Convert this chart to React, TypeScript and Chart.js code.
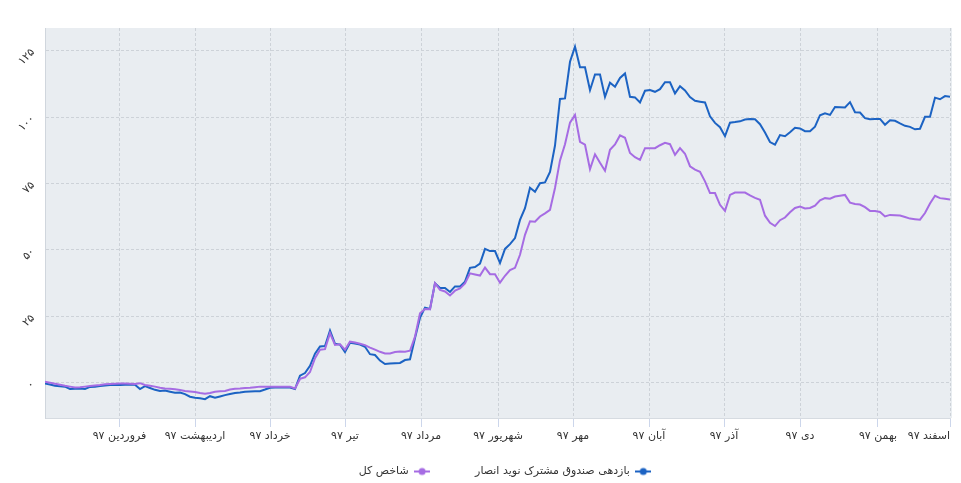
import React, { useEffect, useRef } from 'react';
import { Chart, registerables } from 'chart.js';

Chart.register(...registerables);

// ---- data ----
const seriesNames = ['بازدهی صندوق مشترک نوید انصار', 'شاخص کل'];
const monthNames = ['فروردین', 'اردیبهشت', 'خرداد', 'تیر', 'مرداد', 'شهریور', 'مهر', 'آبان', 'آذر', 'دی', 'بهمن', 'اسفند'];
const yearLabel = '۹۷';
// trading-day index at which each month starts
const monthStartIndex = [14.9, 30, 45, 60, 75.2, 90.6, 105.6, 120.8, 135.8, 151, 166.6, 181];
const yTickValues = [0, 25, 50, 75, 100, 125];

const fundReturns = [
  -0.2, -0.6, -1.1, -1.3, -1.4, -2.3, -2.2, -2.1, -2.3, -1.5,
  -1.4, -1.2, -1.0, -0.8, -0.8, -0.8, -0.7, -0.7, -0.7, -2.3,
  -1.2, -1.9, -2.6, -3.0, -2.9, -3.3, -3.7, -3.6, -4.2, -5.2,
  -5.6, -5.8, -6.1, -5.0, -5.6, -5.1, -4.6, -4.2, -3.8, -3.6,
  -3.3, -3.2, -3.1, -3.1, -2.5, -1.8, -1.7, -1.7, -1.7, -1.7,
  -2.3, 2.7, 3.7, 6.4, 11.0, 13.7, 13.9, 19.7, 14.7, 14.4,
  11.6, 15.1, 14.8, 14.4, 13.6, 10.8, 10.5, 8.4, 7.1, 7.3,
  7.4, 7.5, 8.6, 8.9, 16.9, 24.5, 28.3, 27.8, 37.5, 35.7,
  35.7, 34.2, 36.3, 36.3, 38.1, 43.3, 43.6, 44.9, 50.4, 49.6,
  49.6, 45.1, 50.4, 52.2, 54.5, 61.3, 65.7, 73.4, 71.9, 75.1,
  75.4, 79.4, 89.3, 106.8, 107.0, 120.8, 126.5, 118.7, 118.7, 110.1,
  116.0, 116.0, 107.6, 112.9, 111.4, 114.7, 116.4, 107.6, 107.4, 105.5,
  109.9, 110.2, 109.5, 110.5, 113.1, 113.1, 108.9, 111.6, 110.0, 107.5,
  106.1, 105.8, 105.5, 100.3, 97.8, 96.2, 92.8, 97.9, 98.1, 98.4,
  99.1, 99.3, 99.2, 97.3, 94.2, 90.6, 89.6, 93.2, 92.8, 94.3,
  96.0, 95.7, 94.7, 94.7, 96.4, 100.7, 101.4, 100.8, 103.8, 103.7,
  103.6, 105.6, 101.8, 101.7, 99.6, 99.2, 99.3, 99.3, 97.1, 98.8,
  98.6, 97.6, 96.7, 96.3, 95.4, 95.6, 100.1, 100.1, 107.3, 106.7,
  107.9, 107.6,
];

const indexReturns = [
  0.4, 0.1, -0.3, -0.7, -1.1, -1.4, -1.7, -1.6, -1.4, -1.2,
  -1.0, -0.8, -0.5, -0.4, -0.3, -0.2, -0.2, -0.3, -0.4, -0.1,
  -0.8, -1.1, -1.4, -1.8, -2.1, -2.2, -2.4, -2.7, -3.0, -3.2,
  -3.4, -3.8, -4.1, -3.8, -3.3, -3.1, -3.0, -2.5, -2.2, -2.1,
  -1.9, -1.8, -1.6, -1.4, -1.4, -1.4, -1.4, -1.4, -1.4, -1.4,
  -2.1, 1.5, 2.1, 4.1, 9.3, 12.5, 12.7, 18.7, 14.3, 14.5,
  12.5, 15.5, 15.2, 14.7, 14.2, 13.3, 12.5, 11.7, 11.1, 11.1,
  11.6, 11.8, 11.7, 12.1, 17.4, 26.2, 27.8, 27.7, 37.5, 35.0,
  34.4, 32.9, 34.7, 35.5, 37.4, 41.2, 40.8, 40.4, 43.4, 40.9,
  40.9, 37.7, 40.3, 42.4, 43.3, 48.2, 55.7, 60.8, 60.6, 62.6,
  63.8, 65.1, 73.3, 83.7, 89.8, 97.9, 100.8, 90.7, 89.6, 80.4,
  86.0, 82.8, 79.8, 87.7, 89.7, 93.1, 92.2, 86.5, 84.9, 83.9,
  88.3, 88.3, 88.3, 89.4, 90.3, 89.8, 85.8, 88.3, 86.2, 81.5,
  80.2, 79.4, 75.8, 71.4, 71.4, 67.0, 64.7, 70.7, 71.6, 71.6,
  71.6, 70.5, 69.6, 68.9, 62.9, 60.2, 59.0, 61.2, 62.2, 64.2,
  65.8, 66.3, 65.6, 65.8, 66.7, 68.7, 69.5, 69.3, 70.1, 70.4,
  70.7, 67.8, 67.3, 67.1, 66.1, 64.7, 64.7, 64.3, 62.6, 63.2,
  63.1, 63.0, 62.4, 61.8, 61.6, 61.4, 63.9, 67.5, 70.4, 69.5,
  69.3, 69.0,
];

const seriesColors = ['#1c63c3', '#a66ce3'];

const FONT = '"DejaVu Sans", sans-serif';
const persianDigits = '۰۱۲۳۴۵۶۷۸۹';
const toPersian = (v: number | string) => String(v).replace(/\d/g, (d) => persianDigits[Number(d)]);

const CANVAS_W = 961;
const CANVAS_H = 487;
const X_AXIS_H = 30;
const LEGEND_FONT = 11;
const LEGEND_GAP = 45;
const LEGEND_BOX_H = CANVAS_H - 418 - X_AXIS_H; // layout height reserved for legend
const LEGEND_SHIFT_X = 30;
const LEGEND_SHIFT_Y = -27;

const plotBackground = {
  id: 'plotBackground',
  beforeDraw(chart: any) {
    const { ctx, chartArea } = chart;
    if (!chartArea) return;
    ctx.save();
    ctx.fillStyle = '#e9edf1';
    ctx.fillRect(chartArea.left, chartArea.top, chartArea.right - chartArea.left + 2, chartArea.bottom - chartArea.top);
    ctx.restore();
  },
};

const legendShift = {
  id: 'legendShift',
  afterLayout(chart: any) {
    const lg = chart.legend;
    if (!lg) return;
    lg.left += LEGEND_SHIFT_X;
    lg.right += LEGEND_SHIFT_X;
    lg.top += LEGEND_SHIFT_Y;
    lg.bottom = CANVAS_H;
  },
};

function makeMarker(color: string) {
  const c = document.createElement('canvas');
  c.width = 16;
  c.height = 10;
  const g = c.getContext('2d')!;
  g.strokeStyle = color;
  g.lineWidth = 2;
  g.beginPath();
  g.moveTo(0, 5);
  g.lineTo(16, 5);
  g.stroke();
  g.fillStyle = color;
  g.beginPath();
  g.arc(8, 5, 3.5, 0, Math.PI * 2);
  g.fill();
  return c;
}

export default function App() {
  const ref = useRef<HTMLCanvasElement | null>(null);

  useEffect(() => {
    if (!ref.current) return;
    const markers = seriesColors.map(makeMarker);
    const xTicks = [0, ...monthStartIndex];

    const chart = new Chart(ref.current, {
      type: 'line',
      data: {
        datasets: [
          {
            label: seriesNames[0],
            data: fundReturns.map((v, i) => ({ x: i, y: v })),
            borderColor: seriesColors[0],
            backgroundColor: seriesColors[0],
            borderWidth: 2,
            pointRadius: 0,
            tension: 0,
            order: 1,
          },
          {
            label: seriesNames[1],
            data: indexReturns.map((v, i) => ({ x: i, y: v })),
            borderColor: seriesColors[1],
            backgroundColor: seriesColors[1],
            borderWidth: 2,
            pointRadius: 0,
            tension: 0,
            order: 0,
          },
        ],
      },
      options: {
        animation: false,
        responsive: false,
        maintainAspectRatio: false,
        layout: { padding: { top: 28, right: 11, left: 0, bottom: 0 } },
        font: { family: FONT },
        scales: {
          x: {
            type: 'linear',
            min: 0,
            max: fundReturns.length - 1,
            afterBuildTicks: (scale: any) => {
              scale.ticks = xTicks.map((v) => ({ value: v }));
            },
            afterFit: (scale: any) => {
              scale.height = X_AXIS_H;
              scale.paddingLeft = 0;
              scale.paddingRight = 0;
            },
            ticks: {
              autoSkip: false,
              maxRotation: 0,
              minRotation: 0,
              align: 'inner',
              padding: 3,
              color: '#333333',
              font: { family: FONT, size: 11 },
              callback: (_v: any, i: number) => (i === 0 ? '' : `${monthNames[i - 1]} ${yearLabel}`),
            },
            grid: {
              color: (c: any) => (c.index === 0 ? 'rgba(0,0,0,0)' : '#cdd2d8'),
              tickColor: (c: any) => (c.index === 0 ? 'rgba(0,0,0,0)' : '#ccd6eb'),
              tickLength: 9,
              lineWidth: 1,
            },
            border: { display: true, color: '#d6dbe1', dash: [3, 2] },
          },
          y: {
            type: 'linear',
            min: -13.2,
            max: 133.5,
            afterBuildTicks: (scale: any) => {
              scale.ticks = yTickValues.map((v) => ({ value: v }));
            },
            afterFit: (scale: any) => {
              scale.width = 45;
              scale.paddingTop = 0;
              scale.paddingBottom = 0;
            },
            ticks: {
              minRotation: 45,
              maxRotation: 45,
              padding: 12,
              color: '#333333',
              font: { family: FONT, size: 11 },
              callback: (v: any) => toPersian(v),
            },
            grid: { color: '#cdd2d8', drawTicks: false, lineWidth: 1 },
            border: { display: true, color: '#d0d6dd', dash: [3, 2] },
          },
        },
        plugins: {
          tooltip: { enabled: false },
          legend: {
            position: 'bottom',
            rtl: true,
            textDirection: 'rtl',
            maxHeight: LEGEND_BOX_H,
            labels: {
              usePointStyle: true,
              pointStyleWidth: 16,
              boxHeight: 10,
              padding: LEGEND_GAP,
              color: '#333333',
              font: { family: FONT, size: LEGEND_FONT },
              sort: (a: any, b: any) => a.datasetIndex - b.datasetIndex,
              generateLabels: (ch: any) => {
                const items = (Chart.defaults.plugins.legend.labels as any).generateLabels(ch);
                return items.map((it: any) => ({ ...it, pointStyle: markers[it.datasetIndex] }));
              },
            },
          },
        },
      } as any,
      plugins: [plotBackground, legendShift],
    });

    return () => chart.destroy();
  }, []);

  return (
    <div style={{ position: 'fixed', left: 0, top: 0, width: CANVAS_W, height: CANVAS_H, background: '#ffffff' }}>
      <canvas ref={ref} width={CANVAS_W} height={CANVAS_H} style={{ display: 'block', width: CANVAS_W, height: CANVAS_H }} />
    </div>
  );
}
